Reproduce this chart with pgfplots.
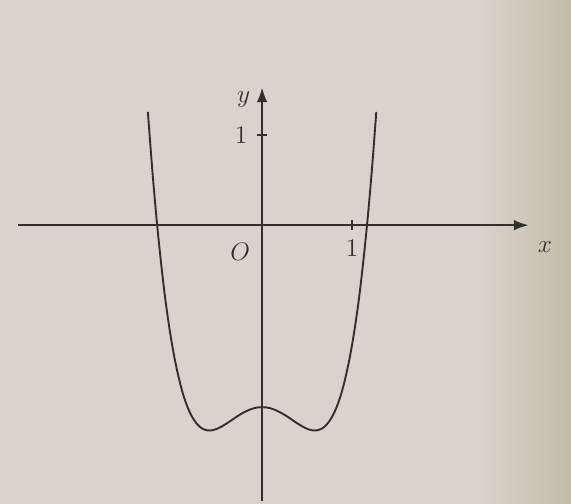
\documentclass[border=0pt]{standalone}
\usepackage{pgfplots}
\pgfplotsset{compat=1.18}
\usetikzlibrary{arrows.meta}
\definecolor{paper}{RGB}{216,212,203}
\definecolor{paperdark}{RGB}{196,186,170}
\definecolor{ink}{RGB}{50,48,45}
\begin{document}
\begin{tikzpicture}
\begin{axis}[
  set layers,
  x=1.5cm, y=1.5cm,
  xmin=-2.71, xmax=2.96,
  ymin=-3.06, ymax=1.53,
  axis lines=middle,
  axis line style={ink, line width=0.9pt, -{Latex[length=7pt,width=5pt]}},
  xtick={1}, ytick={1},
  tick style={ink, line width=0.7pt},
  major tick length=5pt,
  tick label style={font=\large},
  xticklabel style={anchor=north, yshift=-1pt, text=ink},
  yticklabel style={anchor=east, xshift=-1pt, text=ink},
  clip=false,
  xlabel={$x$}, ylabel={$y$},
  label style={font=\large},
  x label style={at={(axis cs:2.98,-0.1)}, anchor=north west, text=ink},
  y label style={at={(axis cs:-0.05,1.4)}, anchor=east, text=ink},
]
\begin{pgfonlayer}{axis background}
\shade[left color=paper, right color=paper]
  (axis cs:-2.91,-3.09) rectangle (axis cs:2.4,2.5);
\shade[left color=paper, right color=paperdark]
  (axis cs:2.4,-3.09) rectangle (axis cs:3.43,2.5);
\end{pgfonlayer}
\node[ink, anchor=north east, font=\large] at (axis cs:-0.05,-0.12) {$O$};
\addplot[ink, line width=0.9pt, smooth] coordinates {
  (-1.268,1.258) (-1.219,0.612) (-1.17,0.053) (-1.121,-0.427) (-1.073,-0.835)
  (-1.024,-1.177) (-0.975,-1.461) (-0.926,-1.691) (-0.878,-1.875) (-0.829,-2.017)
  (-0.78,-2.123) (-0.731,-2.198) (-0.683,-2.246) (-0.634,-2.272) (-0.585,-2.28)
  (-0.536,-2.273) (-0.488,-2.256) (-0.439,-2.230) (-0.39,-2.2) (-0.341,-2.167)
  (-0.293,-2.134) (-0.244,-2.103) (-0.195,-2.075) (-0.146,-2.052) (-0.098,-2.035)
  (-0.049,-2.024) (0,-2.021) (0.049,-2.024) (0.098,-2.035) (0.146,-2.052)
  (0.195,-2.075) (0.244,-2.103) (0.293,-2.134) (0.341,-2.167) (0.39,-2.2)
  (0.439,-2.230) (0.488,-2.256) (0.536,-2.273) (0.585,-2.28) (0.634,-2.272)
  (0.683,-2.246) (0.731,-2.198) (0.78,-2.123) (0.829,-2.017) (0.878,-1.875)
  (0.926,-1.691) (0.975,-1.461) (1.024,-1.177) (1.073,-0.835) (1.121,-0.427)
  (1.17,0.053) (1.219,0.612) (1.268,1.258)
};
\end{axis}
\end{tikzpicture}
\end{document}
